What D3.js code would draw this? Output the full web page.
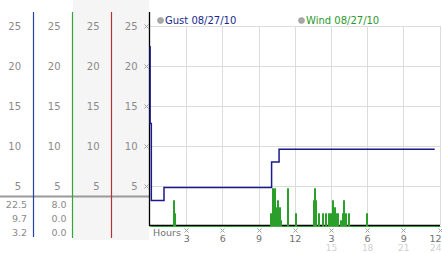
<!DOCTYPE html>
<html>
<head>
<meta charset="utf-8">
<script src="https://cdn.jsdelivr.net/npm/d3@7"></script>
<style>
  body { margin: 0; background: #fff; }
  svg { display: block; font-family: "DejaVu Sans", Verdana, sans-serif; }
</style>
</head>
<body>
<svg class="chart" width="442" height="253"></svg>
<script>
// data
const yTicks = [5, 10, 15, 20, 25];
const xTicks = [3, 6, 9, 12, 15, 18, 21, 24];
const xLabels = ["3", "6", "9", "12", "3", "6", "9", "12"];
const xLabels2 = ["", "", "", "", "15", "18", "21", "24"];

const gustHours = [0, 0.01, 0.11, 1.16, 10.08, 10.7, 23.6];
const gustValues = [22.4, 12.8, 3.2, 4.8, 8.0, 9.6, 9.6];

const windHours = [1.88, 1.99, 9.97, 10.08, 10.27, 10.38, 10.52, 10.66, 10.8, 11.35, 12.04,
  13.48, 13.59, 13.7, 13.89, 14.28, 14.53, 14.77, 14.94, 15.11, 15.22, 15.36, 15.49,
  15.72, 15.91, 16.02, 16.18, 16.38, 17.9];
const windValues = [3.2, 1.6, 1.6, 4.8, 4.8, 2.4, 3.2, 2.4, 0.8, 4.8, 1.6,
  3.2, 4.8, 3.2, 1.6, 1.6, 1.6, 1.6, 1.6, 3.2, 2.4, 1.6, 1.6,
  0.8, 1.6, 3.2, 1.6, 1.6, 1.6];

const gustStats = [22.5, 9.7, 3.2];
const windStats = [8.0, 0.0, 0.0];

const legendNames = ["Gust 08/27/10", "Wind 08/27/10"];

let svg = d3.select(".chart");

let x = d3.scaleLinear().domain([0, 24]).range([150, 439.5]);
let y = d3.scaleLinear().domain([0, 25]).range([226, 26]);

// left panel backgrounds
svg.append("rect").attr("x", 73).attr("y", 0).attr("width", 76).attr("height", 240)
  .attr("fill", "#f5f5f5");

// column labels
const colRight = [21, 60.5, 99.5, 137.5];
colRight.forEach(cx => {
  svg.selectAll(null)
    .data(yTicks)
    .enter().append("text")
    .attr("x", cx)
    .attr("y", d => y(d))
    .attr("dy", "0.36em")
    .attr("text-anchor", "end")
    .attr("font-size", 10)
    .attr("fill", "#8a8a8a")
    .text(d => d);
});

// separator line
svg.append("line").attr("x1", 0).attr("x2", 149).attr("y1", 196.5).attr("y2", 196.5)
  .attr("stroke", "#9a9a9a").attr("stroke-width", 2);

// colored column lines
const colLines = [[33.5, "#2444a4", 237], [72.5, "#35a535", 238], [111.5, "#b03434", 238]];
colLines.forEach(c => {
  svg.append("line").attr("x1", c[0]).attr("x2", c[0]).attr("y1", 12).attr("y2", c[2])
    .attr("stroke", c[1]).attr("stroke-width", 1.2);
});

// stats
svg.selectAll(".gstat").data(gustStats).enter().append("text")
  .attr("x", 27).attr("y", (d, i) => 208 + i * 14)
  .attr("text-anchor", "end").attr("font-size", 9.5).attr("fill", "#8a8a8a")
  .text(d => d.toFixed(1));
svg.selectAll(".wstat").data(windStats).enter().append("text")
  .attr("x", 66.5).attr("y", (d, i) => 208 + i * 14)
  .attr("text-anchor", "end").attr("font-size", 9.5).attr("fill", "#8a8a8a")
  .text(d => d.toFixed(1));

// grid
svg.append("g").selectAll("line").data(yTicks).enter().append("line")
  .attr("x1", 150).attr("x2", 440)
  .attr("y1", d => Math.round(y(d)) + 0.5).attr("y2", d => Math.round(y(d)) + 0.5)
  .attr("stroke", "#dcdcdc");
svg.append("g").selectAll("line").data(xTicks).enter().append("line")
  .attr("x1", d => Math.round(x(d)) + 0.5).attr("x2", d => Math.round(x(d)) + 0.5)
  .attr("y1", y(25)).attr("y2", 225)
  .attr("stroke", "#dcdcdc");

// small tick marks
function mark(g, cx, cy) {
  g.append("path")
    .attr("d", `M${cx - 2},${cy - 2}L${cx + 2},${cy + 2}M${cx + 2},${cy - 2}L${cx - 2},${cy + 2}`)
    .attr("stroke", "#a0a0a0").attr("stroke-width", 1).attr("fill", "none");
}
let marks = svg.append("g");
yTicks.forEach(d => mark(marks, 146.5, Math.round(y(d)) + 0.5));
xTicks.forEach(d => mark(marks, Math.round(x(d)) + 0.5, 230.5));

// axes lines
svg.append("line").attr("x1", 149.5).attr("x2", 149.5).attr("y1", 12).attr("y2", 226)
  .attr("stroke", "#000").attr("stroke-width", 1.3);
svg.append("line").attr("x1", 149).attr("x2", 440).attr("y1", 225.5).attr("y2", 225.5)
  .attr("stroke", "#000").attr("stroke-width", 1.3);

// wind
let windPts = [[0, 0]];
windHours.forEach((h, i) => {
  windPts.push([h, windValues[i]]);
  windPts.push([h + 0.1, 0]);
});
windPts.push([24, 0]);

let windLine = d3.line()
  .x(d => Math.round(x(d[0])) + 0.5)
  .y(d => Math.round(y(d[1])) + 0.5)
  .curve(d3.curveStepAfter);
svg.append("path")
  .attr("d", windLine(windPts))
  .attr("fill", "none")
  .attr("stroke", "#2aa02a")
  .attr("stroke-width", 1);

// gust
let gustLine = d3.line()
  .x((d, i) => x(gustHours[i]))
  .y(d => y(d))
  .curve(d3.curveStepAfter);
svg.append("path")
  .attr("d", gustLine(gustValues))
  .attr("fill", "none")
  .attr("stroke", "#1a1a8c")
  .attr("stroke-width", 1.5);

// x labels
svg.append("text").attr("x", 153).attr("y", 236).attr("font-size", 9.5)
  .attr("fill", "#707070").text("Hours");
const last = xTicks.length - 1;
svg.selectAll(".xl").data(xTicks).enter().append("text")
  .attr("x", (d, i) => i === last ? 441.5 : x(d) + 0.5).attr("y", 242)
  .attr("text-anchor", (d, i) => i === last ? "end" : "middle")
  .attr("font-size", 9.5).attr("fill", "#707070")
  .text((d, i) => xLabels[i]);
svg.selectAll(".xl2").data(xTicks).enter().append("text")
  .attr("x", (d, i) => i === last ? 441.5 : x(d) + 0.5).attr("y", 251)
  .attr("text-anchor", (d, i) => i === last ? "end" : "middle")
  .attr("font-size", 9).attr("fill", "#d0d0d0")
  .text((d, i) => xLabels2[i]);

// legend
const legendX = [160.5, 301.5];
const legendCol = ["#1a2a8c", "#2a9a2a"];
legendNames.forEach((n, i) => {
  svg.append("circle").attr("cx", legendX[i]).attr("cy", 20.5).attr("r", 3)
    .attr("fill", "#a8a8a8").attr("stroke", "#8c8c8c").attr("stroke-width", 0.5);
  svg.append("text").attr("x", legendX[i] + 4.5).attr("y", 24.3)
    .attr("font-size", 10).attr("fill", legendCol[i]).text(n);
});
</script>
</body>
</html>
